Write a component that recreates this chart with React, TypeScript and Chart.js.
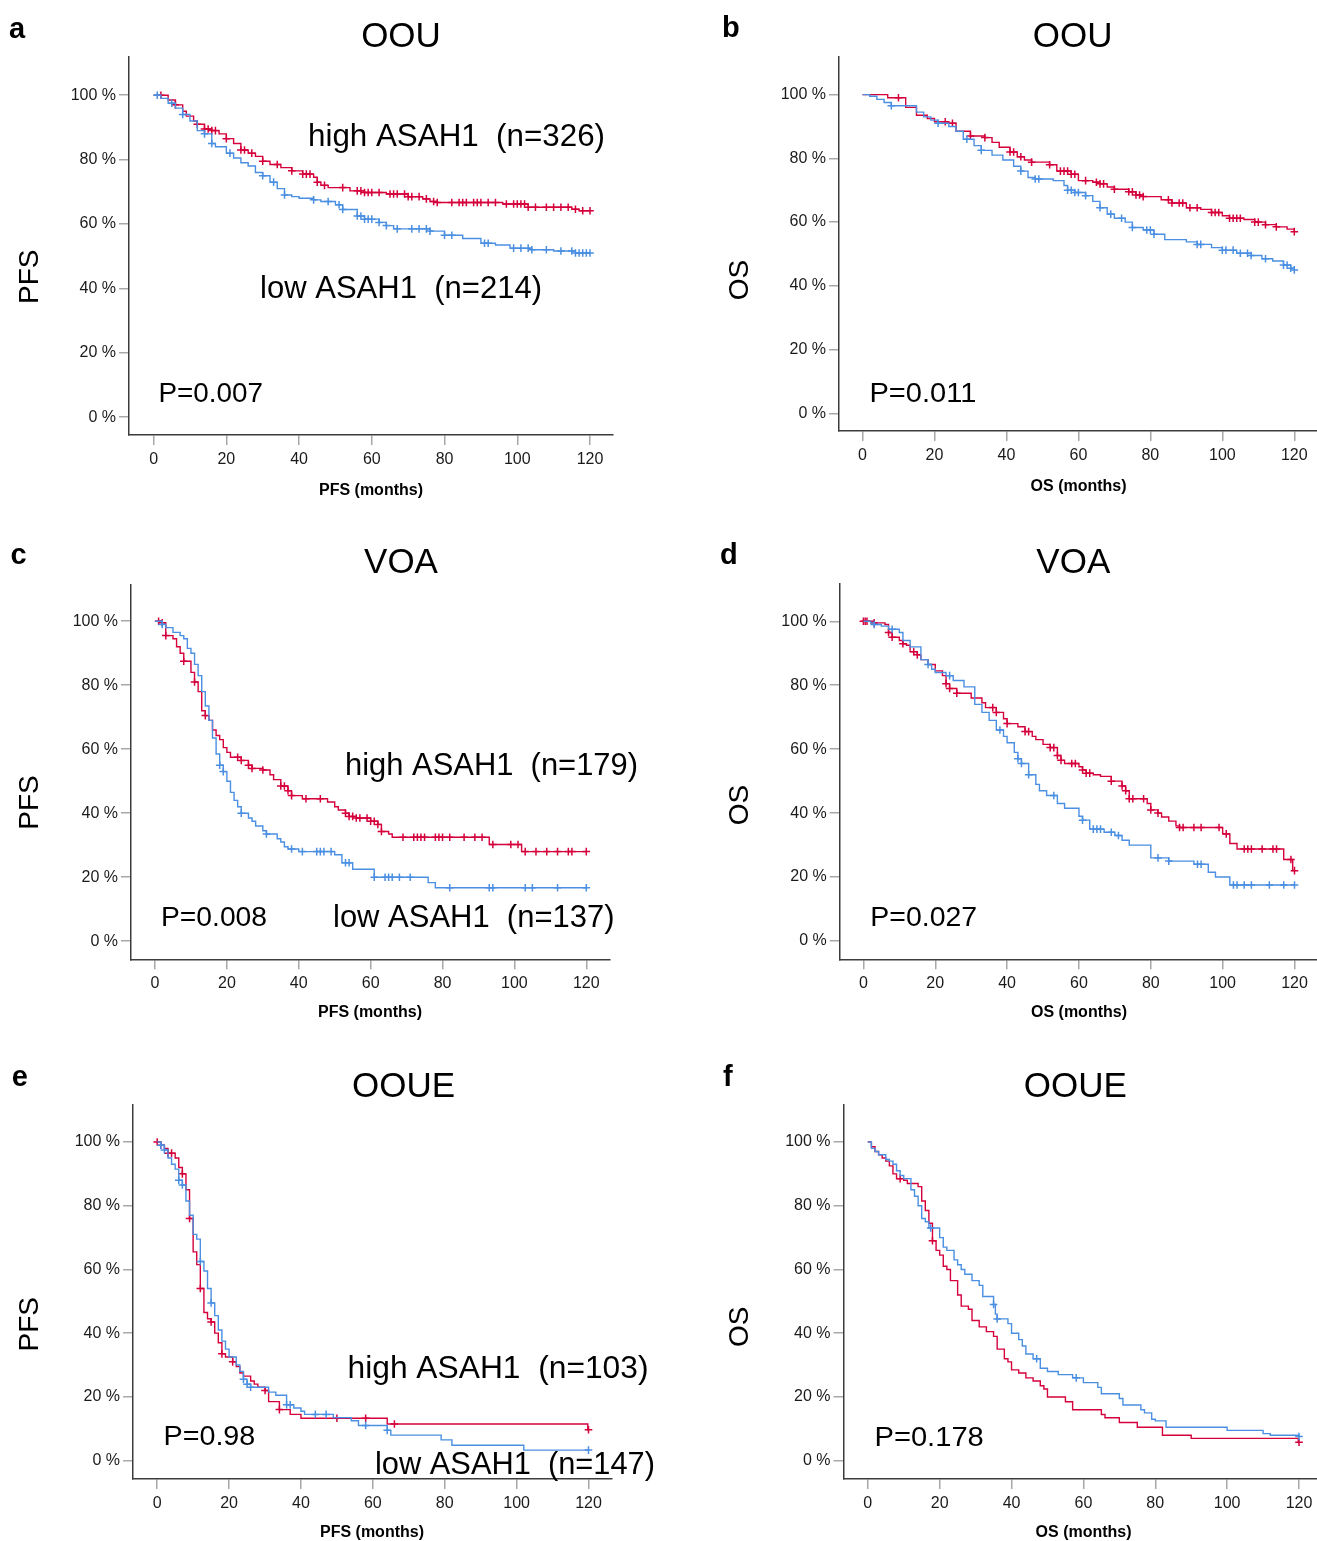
import React, { useEffect, useRef } from 'react';
import { Chart, registerables } from 'chart.js';

Chart.register(...registerables);

const RED = '#d5003b';
const BLUE = '#4a8fe2';
const FONT = '"Liberation Sans", Arial, Helvetica, sans-serif';

// ---------- tick values / labels ----------
const xTickValues = [0, 20, 40, 60, 80, 100, 120];
const xTickLabels = ['0', '20', '40', '60', '80', '100', '120'];
const yTickValues = [0, 20, 40, 60, 80, 100];
const yTickLabels = ['0 %', '20 %', '40 %', '60 %', '80 %', '100 %'];

// ---------- panel a: OOU PFS ----------
const aHighT = [0, 4, 6, 8, 9, 11, 12, 14, 16, 18, 20, 22, 24, 26, 28, 30, 32, 35, 38, 41, 44, 45, 46, 48, 54, 58, 64, 70, 74, 76, 78, 96, 103, 115, 117, 120];
const aHighS = [100, 98.5, 97, 95, 93.5, 92, 91, 89.5, 89, 88, 86.5, 85, 83, 82, 81, 79.5, 78.5, 77.5, 76.5, 75.5, 74.5, 73, 72, 71.3, 70.3, 69.8, 69.3, 68.5, 67.8, 67, 66.7, 66.2, 65.2, 64.6, 64.1, 64.1];
const aHighCens = [2, 6, 12, 14, 15, 16, 17, 20, 24, 25, 27, 30, 34, 38, 41, 42, 43, 45, 47, 52, 56, 57, 58, 59, 60, 62, 65, 66, 67, 69, 70, 71, 73, 75, 77, 78, 82, 84, 85, 86, 88, 89, 90, 92, 94, 97, 99, 100, 101, 102, 103, 105, 108, 110, 112, 114, 116, 118, 120];
const aLowT = [0, 2, 4, 6, 8, 10, 12, 14, 16, 17, 20, 22, 24, 26, 28, 30, 32, 34, 36, 38, 40, 44, 46, 50, 52, 56, 58, 62, 64, 66, 76, 80, 85, 90, 94, 98, 104, 110, 116, 120];
const aLowS = [100, 99, 97.5, 96, 94, 92, 89, 88, 85, 84, 82, 80.5, 79, 78, 76, 75, 73, 71, 69, 68.5, 68, 67.5, 67, 66, 64.5, 62.5, 61.5, 60.5, 59.5, 58.5, 57.8, 56.5, 55.5, 54, 53.5, 52.5, 52, 51.6, 51, 51];
const aLowCens = [1, 5, 8, 14, 16, 21, 30, 33, 36, 44, 48, 51, 52, 56, 57, 58, 59, 60, 62, 64, 67, 71, 73, 75, 76, 80, 82, 91, 92, 99, 101, 103, 104, 108, 112, 115, 116, 117, 118, 119, 120];

// ---------- panel b: OOU OS ----------
const bHighT = [0, 7, 12, 15, 18, 20, 24, 26, 30, 34, 36, 38, 41, 43, 45, 47, 52, 54, 58, 60, 64, 66, 68, 70, 74, 76, 78, 83, 86, 90, 94, 97, 100, 102, 106, 109, 112, 115, 118, 120];
const bHighS = [100, 99, 96, 93.5, 92.5, 91.5, 91, 88.5, 87, 86.5, 85, 83.5, 82, 80.5, 79.5, 78.8, 78, 76, 75, 73, 72.5, 72, 71, 70.3, 69.5, 68.5, 68, 67, 66, 64.5, 64, 63, 62, 61.2, 60.8, 60, 59.2, 58.5, 57.8, 57];
const bHighCens = [10, 23, 25, 30, 34, 41, 42, 44, 47, 52, 55, 56, 57, 58, 59, 62, 65, 66, 67, 70, 74, 75, 76, 77, 78, 85, 86, 88, 89, 91, 93, 97, 98, 99, 102, 103, 104, 105, 109, 110, 112, 115, 120];
const bLowT = [0, 2, 4, 6, 8, 15, 17, 19, 21, 24, 26, 28, 31, 33, 36, 39, 42, 44, 46, 48, 53, 56, 57, 59, 62, 64, 66, 68, 70, 73, 75, 78, 81, 84, 90, 93, 97, 100, 104, 108, 111, 114, 117, 119, 120];
const bLowS = [100, 99.5, 98.5, 97.5, 96.5, 94.5, 93, 92, 91, 90, 88.5, 86, 84, 82.5, 81, 79.5, 77.5, 76, 74, 73.5, 73, 71.5, 70, 69.3, 68.3, 66.5, 64.5, 62.5, 61.2, 60, 58.3, 57.5, 56.2, 54.5, 53.8, 53, 52, 51.2, 50.2, 49.5, 48.5, 47.8, 46.5, 45.5, 45];
const bLowCens = [8, 21, 29, 33, 44, 48, 49, 57, 58, 59, 60, 62, 66, 69, 72, 75, 79, 80, 81, 93, 94, 100, 101, 103, 105, 107, 108, 112, 117, 118, 119, 120];

// ---------- panel c: VOA PFS ----------
const cHighT = [0, 2, 3, 5, 6, 7, 8, 10, 11, 12, 13, 14, 15, 16, 17, 18, 19, 20, 21, 24, 26, 27, 30, 32, 33, 35, 37, 38, 41, 48, 50, 51, 53, 54, 56, 60, 62, 63, 65, 66, 93, 102, 120];
const cHighS = [100, 99.5, 95.5, 94.5, 92, 90, 87.5, 84, 81, 78, 72, 70.5, 69, 66, 64.3, 63, 60.5, 59, 57.5, 56.5, 55, 54, 53.5, 52, 50.5, 48.5, 47, 45.5, 44.5, 43.5, 42, 41, 40, 39, 38.5, 37.5, 36.5, 34.3, 33.5, 32.5, 30.2, 28, 28];
const cHighCens = [1, 2, 3, 8, 11, 14, 23, 24, 26, 27, 30, 35, 36, 37, 38, 42, 46, 53, 54, 55, 56, 57, 59, 60, 61, 62, 63, 69, 72, 73, 74, 75, 78, 79, 80, 82, 86, 89, 91, 94, 99, 101, 103, 106, 109, 112, 115, 116, 120];
const cLowT = [0, 2, 3, 5, 7, 8, 9, 10, 11, 12, 13, 14, 15, 16, 17, 18, 19, 20, 21, 22, 23, 24, 26, 27, 28, 30, 31, 34, 35, 36, 37, 40, 50, 52, 55, 61, 76, 78, 120];
const cLowS = [100, 99, 98, 96.5, 95.5, 94.5, 91.5, 90, 86.5, 83, 78, 73.5, 69, 63.5, 58.5, 55, 53, 50, 46.5, 44, 42, 40, 38.5, 37.5, 36, 34.5, 33.5, 32, 31, 29.5, 28.8, 28, 27, 24.5, 22.5, 20, 18.3, 16.7, 16.7];
const cLowCens = [2, 18, 19, 24, 31, 38, 41, 45, 46, 47, 49, 53, 54, 61, 64, 65, 66, 68, 71, 82, 93, 94, 103, 105, 112, 120];

// ---------- panel d: VOA OS ----------
const dHighT = [0, 3, 6, 7, 8, 10, 11, 12, 13, 15, 16, 18, 20, 22, 23, 24, 26, 30, 33, 34, 37, 39, 40, 43, 45, 47, 48, 50, 52, 54, 55, 56, 60, 61, 62, 64, 66, 69, 72, 73, 74, 79, 80, 82, 83, 85, 87, 88, 100, 102, 104, 117, 119.5, 120];
const dHighS = [100, 99.5, 99, 96.5, 95, 94, 93, 92.5, 90.5, 89.5, 88, 86.5, 84.5, 83, 80.5, 79, 77.5, 76, 74.5, 73, 71.5, 69.5, 68, 67, 65.5, 64, 63, 61.5, 60.5, 58, 56.5, 55.5, 54.5, 53.5, 52.5, 52, 51.5, 50, 48.5, 47, 44.5, 43, 41, 40, 38.8, 37.5, 36, 35.5, 33.5, 30.5, 28.8, 25.5, 22, 22];
const dHighCens = [0, 0.5, 1, 3, 7, 8, 11, 14, 15, 23, 24, 26, 36, 37, 40, 45, 46, 52, 53, 54, 55, 58, 59, 61, 62, 63, 69, 72, 73, 74, 75, 78, 80, 82, 88, 89, 92, 94, 99, 101, 106, 107, 108, 111, 114, 115, 119, 120];
const dLowT = [0, 2, 3, 5, 7, 10, 11, 13, 16, 18, 19, 20, 23, 25, 28, 31, 33, 35, 37, 39, 40, 42, 43, 44, 46, 48, 49, 51, 54, 56, 60, 61, 63, 67, 70, 72, 74, 80, 85, 92, 96, 98, 102, 120];
const dLowS = [100, 99.5, 99, 98.5, 97.5, 96.5, 94, 92, 88, 86.5, 85, 84, 83, 81.5, 79.5, 74, 71.5, 69, 66, 64, 62, 59, 57, 55.5, 52, 49, 47, 45.5, 43, 41.5, 39, 37.8, 35, 34, 33, 31.5, 30, 26, 25, 24, 21.5, 20, 17.5, 17.5];
const dLowCens = [3, 8, 18, 24, 38, 43, 44, 46, 53, 61, 64, 65, 66, 69, 71, 82, 85, 93, 94, 103, 104, 106, 108, 113, 117, 120];

// ---------- panel e: OOUE PFS ----------
const eHighT = [0, 1, 2, 3, 5, 6, 7, 8, 9, 10, 11, 12, 13, 14, 15, 16, 17, 18, 19, 21, 22, 23, 24, 26, 27, 28, 30, 31, 34, 37, 40, 64, 119.8, 120];
const eHighS = [100, 99, 98, 96.5, 95, 92, 90, 85, 76, 65.5, 61.5, 54, 46.5, 44.5, 43.5, 40, 37, 33.5, 32.5, 31, 29.5, 27.5, 26.5, 25, 24, 23, 22, 18.5, 16, 14.5, 13.3, 11.5, 9.7, 9.7];
const eHighCens = [0, 1, 3, 4, 7, 9, 12, 15, 18, 21, 30, 34, 50, 58, 66, 120];
const eLowT = [0, 1, 2, 3, 4, 5, 6, 7, 8, 9, 10, 11, 12, 13, 14, 15, 16, 17, 18, 19, 20, 22, 23, 24, 25, 26, 31, 33, 36, 38, 40, 41, 49, 54, 56, 64, 65, 79, 82, 102, 120];
const eLowS = [100, 99, 97.5, 95, 93, 91.5, 88, 86.5, 81.5, 77, 71, 69.5, 62.5, 59.5, 54, 49.5, 45.5, 41, 37.5, 35, 32.5, 30, 28, 25.5, 24, 23, 21.5, 20.5, 17.5, 16.5, 15.5, 14.5, 13.5, 12.5, 11, 9.5, 8, 6.5, 4.8, 3.3, 3.3];
const eLowCens = [1, 2, 6, 7, 12, 15, 24, 25, 26, 36, 37, 44, 47, 58, 64, 120];

// ---------- panel f: OOUE OS ----------
const fHighT = [0, 1, 2, 3, 4, 5, 6, 7, 8, 10, 11, 14, 15, 16, 17, 18, 19, 20, 21, 22, 23, 25, 26, 28, 29, 31, 33, 35, 36, 38, 39, 40, 42, 44, 46, 48, 49, 50, 55, 57, 65, 66, 70, 75, 82, 90, 119.8, 120];
const fHighS = [100, 98.5, 97, 96, 95, 94, 92.5, 90, 88.5, 88, 87, 86, 81.5, 78.5, 74.5, 69, 66, 64.5, 61, 60, 56.5, 52, 48.5, 47.5, 44, 42, 40.5, 39, 35, 32, 31, 28.5, 27.5, 26, 25, 23.5, 22.5, 20, 18.5, 16, 14.5, 13.5, 12, 10.5, 8, 7, 5.8, 5.8];
const fHighCens = [9, 18, 120];
const fLowT = [0, 1, 2, 3, 5, 6, 7, 8, 9, 10, 12, 13, 14, 15, 16, 17, 20, 21, 22, 24, 25, 26, 27, 29, 31, 32, 35, 35.5, 36, 39, 40, 42, 43, 44, 46, 48, 50, 53, 57, 60, 64, 65, 70, 71, 76, 77, 79, 80, 83, 100, 110, 112, 120];
const fLowS = [100, 98, 97, 96, 94.5, 94, 93, 91, 89.5, 88.5, 85, 83, 80, 76, 75, 73, 70, 67, 66, 63, 61.5, 60, 58.5, 56.5, 55, 51.5, 49, 46, 44.5, 43, 40, 38, 36, 33.5, 32, 29, 28, 27, 26, 24.5, 23, 21, 19.5, 17.5, 16, 15, 13, 12.5, 10.5, 9.5, 8.5, 8, 7.6];
const fLowCens = [17.5, 35, 36, 47, 58, 120];

// ---------- layout (page pixels) ----------
type TextItem = { text: string; x: number; y: number; size: number; bold?: boolean; x2?: number; rot?: boolean; align?: CanvasTextAlign };
type PanelSpec = {
  box: { x: number; y: number; w: number; h: number };
  area: { L: number; T: number; R: number; B: number };
  px: { x0: number; x120: number; y100: number; y0: number };
  high: { T: number[]; S: number[]; C: number[] };
  low: { T: number[]; S: number[]; C: number[] };
  texts: TextItem[];
};

const panels: PanelSpec[] = [
  {
    box: { x: 0, y: 0, w: 658, h: 520 },
    area: { L: 129, T: 57, R: 613, B: 435 },
    px: { x0: 153.6, x120: 590, y100: 95.2, y0: 417.2 },
    high: { T: aHighT, S: aHighS, C: aHighCens },
    low: { T: aLowT, S: aLowS, C: aLowCens },
    texts: [
      { text: 'a', x: 9, y: 37.5, size: 29, bold: true, align: 'left' },
      { text: 'OOU', x: 401, y: 46.5, size: 35 },
      { text: 'PFS', x: 38, y: 276.7, size: 28, rot: true },
      { text: 'high ASAH1  (n=326)', x: 308, x2: 605, y: 145.7, size: 32 },
      { text: 'low ASAH1  (n=214)', x: 260, x2: 542, y: 298.3, size: 32 },
      { text: 'P=0.007', x: 158.5, x2: 263, y: 402.3, size: 28 },
      { text: 'PFS (months)', x: 371, y: 495, size: 16, bold: true },
    ],
  },
  {
    box: { x: 658, y: 0, w: 659, h: 520 },
    area: { L: 839, T: 56.7, R: 1317, B: 431 },
    px: { x0: 862.5, x120: 1294.3, y100: 94.6, y0: 413.3 },
    high: { T: bHighT, S: bHighS, C: bHighCens },
    low: { T: bLowT, S: bLowS, C: bLowCens },
    texts: [
      { text: 'b', x: 722, y: 36.7, size: 29, bold: true, align: 'left' },
      { text: 'OOU', x: 1072.6, y: 46.5, size: 35 },
      { text: 'OS', x: 748, y: 280, size: 28, rot: true },
      { text: 'P=0.011', x: 869.5, x2: 976.3, y: 401.7, size: 28 },
      { text: 'OS (months)', x: 1078.6, y: 490.7, size: 16, bold: true },
    ],
  },
  {
    box: { x: 0, y: 520, w: 658, h: 530 },
    area: { L: 131, T: 584.3, R: 609.7, B: 959.3 },
    px: { x0: 155, x120: 586.3, y100: 621.2, y0: 941.2 },
    high: { T: cHighT, S: cHighS, C: cHighCens },
    low: { T: cLowT, S: cLowS, C: cLowCens },
    texts: [
      { text: 'c', x: 10.5, y: 564.3, size: 29, bold: true, align: 'left' },
      { text: 'VOA', x: 401, y: 573.3, size: 35 },
      { text: 'PFS', x: 38, y: 802.5, size: 28, rot: true },
      { text: 'high ASAH1  (n=179)', x: 345, x2: 638, y: 775, size: 32 },
      { text: 'low ASAH1  (n=137)', x: 333, x2: 614.5, y: 926.7, size: 32 },
      { text: 'P=0.008', x: 161, x2: 267, y: 926, size: 28 },
      { text: 'PFS (months)', x: 370, y: 1017.3, size: 16, bold: true },
    ],
  },
  {
    box: { x: 658, y: 520, w: 659, h: 530 },
    area: { L: 839.7, T: 583.3, R: 1317, B: 959.3 },
    px: { x0: 863.4, x120: 1294.5, y100: 621.3, y0: 941 },
    high: { T: dHighT, S: dHighS, C: dHighCens },
    low: { T: dLowT, S: dLowS, C: dLowCens },
    texts: [
      { text: 'd', x: 720, y: 564.3, size: 29, bold: true, align: 'left' },
      { text: 'VOA', x: 1073.3, y: 573.3, size: 35 },
      { text: 'OS', x: 748, y: 805, size: 28, rot: true },
      { text: 'P=0.027', x: 870.3, x2: 977.1, y: 925.7, size: 28 },
      { text: 'OS (months)', x: 1079, y: 1017.3, size: 16, bold: true },
    ],
  },
  {
    box: { x: 0, y: 1050, w: 658, h: 491 },
    area: { L: 133, T: 1104.3, R: 611.8, B: 1479 },
    px: { x0: 157.2, x120: 588.5, y100: 1142, y0: 1460.6 },
    high: { T: eHighT, S: eHighS, C: eHighCens },
    low: { T: eLowT, S: eLowS, C: eLowCens },
    texts: [
      { text: 'e', x: 11.8, y: 1086, size: 29, bold: true, align: 'left' },
      { text: 'OOUE', x: 403.5, y: 1096.7, size: 35 },
      { text: 'PFS', x: 38, y: 1324.2, size: 28, rot: true },
      { text: 'high ASAH1  (n=103)', x: 347.5, x2: 648.5, y: 1378.3, size: 32 },
      { text: 'low ASAH1  (n=147)', x: 375, x2: 655, y: 1474, size: 32 },
      { text: 'P=0.98', x: 163.5, x2: 255.3, y: 1445, size: 28 },
      { text: 'PFS (months)', x: 372, y: 1536.7, size: 16, bold: true },
    ],
  },
  {
    box: { x: 658, y: 1050, w: 659, h: 491 },
    area: { L: 843.5, T: 1104.3, R: 1317, B: 1479 },
    px: { x0: 867.8, x120: 1299, y100: 1142, y0: 1460.7 },
    high: { T: fHighT, S: fHighS, C: fHighCens },
    low: { T: fLowT, S: fLowS, C: fLowCens },
    texts: [
      { text: 'f', x: 723, y: 1086, size: 29, bold: true, align: 'left' },
      { text: 'OOUE', x: 1075.4, y: 1096.7, size: 35 },
      { text: 'OS', x: 748, y: 1326.7, size: 28, rot: true },
      { text: 'P=0.178', x: 874.5, x2: 983.8, y: 1445.7, size: 28 },
      { text: 'OS (months)', x: 1083.6, y: 1536.7, size: 16, bold: true },
    ],
  },
];

const X_AXIS_H = 50;

function stepAt(T: number[], S: number[], t: number): number {
  let v = S[0];
  for (let i = 0; i < T.length; i++) if (T[i] <= t) v = S[i];
  return v;
}

function curvePoints(T: number[], S: number[]) {
  return T.map((t, i) => ({ x: t, y: S[i] }));
}

function censorPoints(C: number[], T: number[], S: number[]) {
  return C.map((t) => ({ x: t, y: stepAt(T, S, t) }));
}

function Panel({ spec }: { spec: PanelSpec }) {
  const ref = useRef<HTMLCanvasElement | null>(null);

  useEffect(() => {
    const canvas = ref.current;
    if (!canvas) return;
    const { box, area, px } = spec;
    const ppm = (px.x120 - px.x0) / 120;
    const ppp = (px.y0 - px.y100) / 100;
    const xMin = (area.L - px.x0) / ppm;
    const xMax = (area.R - px.x0) / ppm;
    const yMax = 100 + (px.y100 - area.T) / ppp;
    const yMin = -(area.B - px.y0) / ppp;

    const textPlugin = {
      id: 'panelTexts',
      afterDraw(chart: any) {
        const ctx = chart.ctx as CanvasRenderingContext2D;
        for (const t of spec.texts) {
          ctx.save();
          ctx.font = `${t.bold ? 'bold ' : ''}${t.size}px ${FONT}`;
          ctx.fillStyle = '#000';
          ctx.textBaseline = 'alphabetic';
          const x = t.x - box.x;
          const y = t.y - box.y;
          if (t.rot) {
            ctx.translate(x, y);
            ctx.rotate(-Math.PI / 2);
            ctx.textAlign = 'center';
            ctx.fillText(t.text, 0, 0);
          } else if (t.x2 != null) {
            const w = ctx.measureText(t.text).width;
            ctx.translate(x, y);
            ctx.scale((t.x2 - t.x) / w, 1);
            ctx.textAlign = 'left';
            ctx.fillText(t.text, 0, 0);
          } else {
            ctx.textAlign = t.align || 'center';
            ctx.fillText(t.text, x, y);
          }
          ctx.restore();
        }
      },
    };

    const lineDs = (T: number[], S: number[], color: string) => ({
      data: curvePoints(T, S),
      borderColor: color,
      backgroundColor: color,
      borderWidth: 1.4,
      stepped: true as const,
      pointRadius: 0,
      fill: false,
      tension: 0,
    });
    const censDs = (C: number[], T: number[], S: number[], color: string) => ({
      data: censorPoints(C, T, S),
      showLine: false,
      borderColor: color,
      backgroundColor: color,
      pointStyle: 'cross' as const,
      pointRadius: 3.8,
      pointBorderWidth: 1.5,
      pointBorderColor: color,
    });

    const gridCommon = {
      display: true,
      drawOnChartArea: false,
      drawTicks: true,
      tickLength: 10,
      color: '#a8a8a8',
      lineWidth: 1.5,
    };

    const chart = new Chart(canvas, {
      type: 'line',
      data: {
        datasets: [
          lineDs(spec.low.T, spec.low.S, BLUE),
          censDs(spec.low.C, spec.low.T, spec.low.S, BLUE),
          lineDs(spec.high.T, spec.high.S, RED),
          censDs(spec.high.C, spec.high.T, spec.high.S, RED),
        ] as any,
      },
      options: {
        animation: false,
        responsive: false,
        events: [],
        layout: {
          autoPadding: false,
          padding: {
            left: 0,
            top: area.T - box.y,
            right: box.x + box.w - area.R,
            bottom: box.y + box.h - area.B - X_AXIS_H,
          },
        },
        plugins: {
          legend: { display: false },
          tooltip: { enabled: false },
          title: { display: false },
        },
        scales: {
          x: {
            type: 'linear',
            min: xMin,
            max: xMax,
            afterBuildTicks: (s: any) => {
              s.ticks = xTickValues.map((v) => ({ value: v }));
            },
            afterFit: (s: any) => {
              s.height = X_AXIS_H;
              s.paddingLeft = 0;
              s.paddingRight = 0;
              s.paddingTop = 0;
              s.paddingBottom = 0;
            },
            grid: gridCommon,
            border: { display: true, color: '#3c3c3c', width: 1.5 },
            ticks: {
              autoSkip: false,
              maxRotation: 0,
              padding: 5,
              color: '#1a1a1a',
              font: { family: FONT, size: 16 },
              callback: (_v: any, i: number) => xTickLabels[i],
            },
          },
          y: {
            type: 'linear',
            min: yMin,
            max: yMax,
            afterBuildTicks: (s: any) => {
              s.ticks = yTickValues.map((v) => ({ value: v }));
            },
            afterFit: (s: any) => {
              s.width = area.L - box.x;
              s.paddingLeft = 0;
              s.paddingRight = 0;
              s.paddingTop = 0;
              s.paddingBottom = 0;
            },
            grid: gridCommon,
            border: { display: true, color: '#3c3c3c', width: 1.5 },
            ticks: {
              autoSkip: false,
              padding: 3,
              color: '#1a1a1a',
              font: { family: FONT, size: 16 },
              callback: (_v: any, i: number) => yTickLabels[i],
            },
          },
        },
      } as any,
      plugins: [textPlugin],
    });

    return () => chart.destroy();
  }, [spec]);

  return (
    <canvas
      ref={ref}
      width={spec.box.w}
      height={spec.box.h}
      style={{
        position: 'absolute',
        left: spec.box.x,
        top: spec.box.y,
        width: spec.box.w,
        height: spec.box.h,
      }}
    />
  );
}

export default function App() {
  return (
    <div
      style={{
        position: 'absolute',
        left: 0,
        top: 0,
        width: 1317,
        height: 1541,
        background: '#ffffff',
        overflow: 'hidden',
      }}
    >
      {panels.map((p, i) => (
        <Panel key={i} spec={p} />
      ))}
    </div>
  );
}
